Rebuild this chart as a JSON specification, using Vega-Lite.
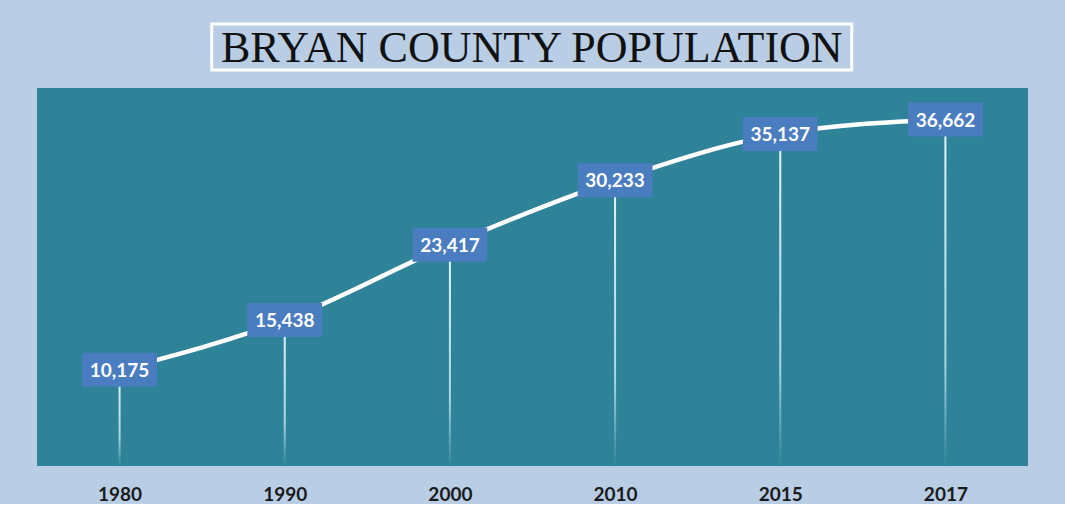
{
  "$schema": "https://vega.github.io/schema/vega-lite/v6.json",
  "background": "#b9cde5",
  "padding": {"left": 37, "top": 22, "right": 37, "bottom": 0},
  "config": {"view": {"stroke": null}},
  "spacing": 15,
  "center": true,
  "vconcat": [
    {
      "width": 640,
      "height": 46,
      "view": {"stroke": "#ffffff", "strokeWidth": 3, "fill": "#b9cde5"},
      "data": {"values": [{"title": "BRYAN COUNTY POPULATION"}]},
      "mark": {"type": "text", "font": "Liberation Serif", "fontSize": 44, "color": "#111111", "baseline": "middle", "align": "center", "dy": 2},
      "encoding": {"text": {"field": "title"}}
    },
    {
      "width": 991,
      "height": 378,
      "view": {"fill": "#2f8399", "stroke": null},
      "data": {"values": [
        {"year": "1980", "pop": 10175},
        {"year": "1990", "pop": 15438},
        {"year": "2000", "pop": 23417},
        {"year": "2010", "pop": 30233},
        {"year": "2015", "pop": 35137},
        {"year": "2017", "pop": 36662}
      ]},
      "encoding": {
        "x": {"field": "year", "type": "ordinal", "scale": {"type": "point", "padding": 0.5},
          "axis": {"title": null, "domain": false, "ticks": false, "grid": false, "labelAngle": 0,
            "labelFont": "Lato", "labelFontWeight": "bold", "labelFontSize": 19, "labelColor": "#1a1a1a", "labelPadding": 19}},
        "y": {"field": "pop", "type": "quantitative", "scale": {"domain": [0, 40000], "nice": false}, "axis": null}
      },
      "layer": [
        {
          "mark": {"type": "bar", "size": 2, "fill": {"gradient": "linear", "x1": 0, "y1": 0, "x2": 0, "y2": 1,
            "stops": [{"offset": 0, "color": "#e8f6fa"}, {"offset": 0.7, "color": "#a9d6e2"}, {"offset": 1, "color": "#2f8399"}]}}
        },
        {
          "mark": {"type": "line", "color": "#ffffff", "strokeWidth": 4.5, "interpolate": "monotone"}
        },
        {
          "mark": {"type": "point", "filled": true, "opacity": 1, "color": "#4a7cc0", "size": 1156,
            "shape": "M-2.2,-1L2.2,-1L2.2,1L-2.2,1Z", "strokeWidth": 0}
        },
        {
          "mark": {"type": "text", "font": "Lato", "fontWeight": "bold", "fontSize": 19, "color": "#ffffff", "baseline": "middle", "dy": 1},
          "encoding": {"text": {"field": "pop", "type": "quantitative", "format": ","}}
        }
      ]
    }
  ]
}
